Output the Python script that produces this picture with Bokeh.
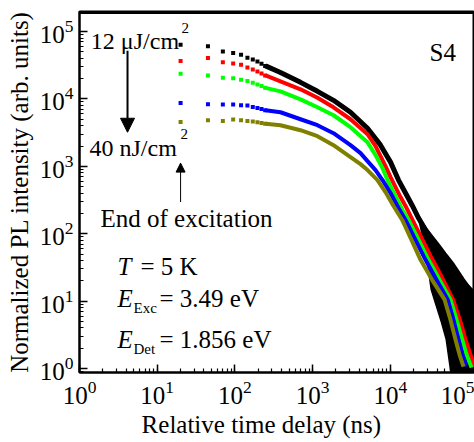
from bokeh.plotting import figure
from bokeh.models import Label, Arrow, NormalHead, Range1d
from bokeh.embed import file_html
from bokeh.resources import INLINE

# ---- data ----
t_early = [20, 45, 70, 95, 120, 145, 170, 195, 220, 245]
black_early = [63500, 60600, 50600, 47800, 45200, 40800, 38500, 36000, 33300, 30900]
red_early = [36400, 40300, 35100, 33600, 32200, 29300, 27400, 25600, 23900, 22300]
green_early = [23700, 22300, 20600, 20200, 19300, 18400, 17400, 16400, 15500, 14600]
blue_early = [8700, 8320, 8240, 8240, 8040, 7960, 7590, 7330, 7090, 6780]
olive_early = [4550, 4820, 4710, 4940, 4820, 4710, 4610, 4500, 4400, 4280]

black_t = [248, 386, 699, 1156, 1858, 3075, 5090, 7490, 10070, 12760, 15700, 19300,
           23100, 28400, 38200, 51300, 63200, 84900, 125000]
black_i = [30900, 24700, 17600, 12950, 9530, 6340, 3670, 2060, 1153, 625, 402, 258,
           171, 114, 68.3, 47, 34.5, 20.7, 11.0]
red_t = [248, 386, 699, 1156, 1858, 3075, 5090, 6460, 8670, 10070, 11670, 13530, 15700,
         19300, 24500, 33900, 44300, 64300, 80000, 92900, 107700, 121300]
red_i = [22300, 18200, 13870, 10380, 7510, 4990, 2990, 1990, 1007, 692, 492, 350, 258,
         160, 92.7, 43.9, 24.6, 10.5, 4.96, 2.69, 1.61, 1.07]
green_t = [248, 386, 699, 1156, 1858, 3075, 5090, 6460, 7940, 9200, 11670, 14360, 17150,
           23100, 31000, 44300, 59500, 71100, 84200, 95700, 111000]
green_i = [14600, 12950, 9860, 7510, 5720, 3800, 2280, 1465, 940, 625, 362, 225, 160,
           80.9, 41, 19.4, 10.5, 5.31, 2.69, 1.61, 1.03]
blue_t = [248, 386, 699, 1156, 1858, 3075, 4140, 5090, 6460, 7940, 10070, 12760, 15700,
          21100, 28400, 39300, 55000, 65000, 75500, 84900, 95700]
blue_i = [6780, 6340, 4990, 4070, 3100, 2060, 1567, 1194, 879, 625, 402, 241, 160,
          80.9, 41, 20.7, 10.5, 5.31, 2.69, 1.61, 1.07]
olive_t = [248, 386, 699, 1156, 1858, 3075, 4140, 5090, 6840, 8670, 11000, 14230, 18740,
           24500, 34500, 50000, 59500, 69000, 77800, 87500]
olive_i = [4280, 4070, 3430, 2800, 2060, 1368, 1078, 879, 625, 415, 258, 160, 80.9,
           41, 20.7, 10.5, 5.31, 2.69, 1.61, 1.07]

# noisy tail of the black trace (lower / upper envelope)
tail_t = [23100, 28400, 32900, 44300, 51300, 59500, 80000, 125000]
tail_lo = [150, 50, 14.7, 4.96, 2.69, 0.8, 0.8, 0.8]
tail_hi = [171, 130, 105, 68, 53.8, 38.3, 23.8, 13.8]

X_MIN, X_MAX = 1, 121300
Y_MIN, Y_MAX = 0.873, 198000
FONT = "Liberation Serif"

p = figure(width=474, height=440, x_axis_type="log", y_axis_type="log",
           x_range=Range1d(X_MIN, X_MAX), y_range=Range1d(Y_MIN, Y_MAX),
           output_backend="svg", toolbar_location=None,
           min_border_left=79, min_border_right=0, min_border_top=11,
           min_border_bottom=67)
p.outline_line_color = "black"
p.outline_line_width = 2
p.background_fill_color = "white"
p.border_fill_color = "white"
p.xgrid.visible = False
p.ygrid.visible = False

for ax in [p.xaxis[0], p.yaxis[0]]:
    ax.axis_line_width = 2
    ax.major_tick_in = 8
    ax.major_tick_out = 0
    ax.minor_tick_in = 4
    ax.minor_tick_out = 0
    ax.major_tick_line_width = 1.5
    ax.minor_tick_line_width = 1.2
    ax.major_label_text_font = FONT
    ax.major_label_text_font_size = "25px"
    ax.axis_label_text_font = FONT
    ax.axis_label_text_font_size = "25px"
    ax.axis_label_text_font_style = "normal"
    ax.axis_label_text_color = "black"
    ax.major_label_text_color = "black"

p.xaxis.axis_label = "Relative time delay (ns)\u00a0\u00a0\u00a0\u00a0\u00a0"
p.yaxis.axis_label = "Normalized PL intensity (arb. units)"
p.xaxis.major_label_standoff = 8
p.yaxis.major_label_standoff = 6
p.xaxis.axis_label_standoff = 4
p.yaxis.axis_label_standoff = 4

# top frame line (drawn as a glyph just inside the frame top)
p.segment(x0=[X_MIN], y0=[Y_MAX / 1.05], x1=[X_MAX], y1=[Y_MAX / 1.05],
          line_color="black", line_width=2)

# noisy tail band
p.varea(x=tail_t, y1=tail_lo, y2=tail_hi, color="black")

# continuous traces
p.line(black_t, black_i, line_color="black", line_width=5, line_join="round")
p.line(red_t, red_i, line_color="#ff0000", line_width=4, line_join="round")
p.line(green_t, green_i, line_color="#00ff00", line_width=4, line_join="round")
p.line(blue_t, blue_i, line_color="#0000ff", line_width=4, line_join="round")
p.line(olive_t, olive_i, line_color="#808000", line_width=4, line_join="round")

# early sparse points
for ys, c in [(black_early, "black"), (red_early, "#ff0000"), (green_early, "#00ff00"),
              (blue_early, "#0000ff"), (olive_early, "#808000")]:
    p.scatter(t_early, ys, marker="square", size=4, fill_color=c, line_color=None)

def lab(x, y, text, size="24px", style="normal"):
    p.add_layout(Label(x=x, y=y, text=text, text_font=FONT, text_font_size=size,
                       text_font_style=style, text_color="black",
                       text_baseline="alphabetic", text_align="left"))

lab(1.40, 73500, "12 μJ/cm")
lab(20.5, 114000, "2", "15px")
lab(1.345, 1860, "40 nJ/cm")
lab(20.0, 2990, "2", "15px")
lab(1.86, 171, "End of excitation", "25px")
lab(3.08, 32.2, "T", "25px", style="italic")
lab(6.1, 32.2, "= 5 K", "25px")
lab(3.08, 10.9, "E", "25px", style="italic")
lab(4.95, 7.8, "Exc", "15px")
lab(10.7, 10.9, "= 3.49 eV", "25px")
lab(3.08, 2.71, "E", "25px", style="italic")
lab(4.95, 1.93, "Det", "15px")
lab(10.7, 2.71, "= 1.856 eV", "25px")
lab(32000, 49400, "S4", "25px")

p.add_layout(Arrow(end=NormalHead(size=14, fill_color="black", line_color="black"),
                   x_start=4.15, y_start=52000, x_end=4.15, y_end=3200,
                   line_width=2, line_color="black"))
p.add_layout(Arrow(end=NormalHead(size=9, fill_color="black", line_color="black"),
                   x_start=20, y_start=295, x_end=20, y_end=1115,
                   line_width=1, line_color="black"))

open("out.html", "w").write(file_html(p, INLINE))
